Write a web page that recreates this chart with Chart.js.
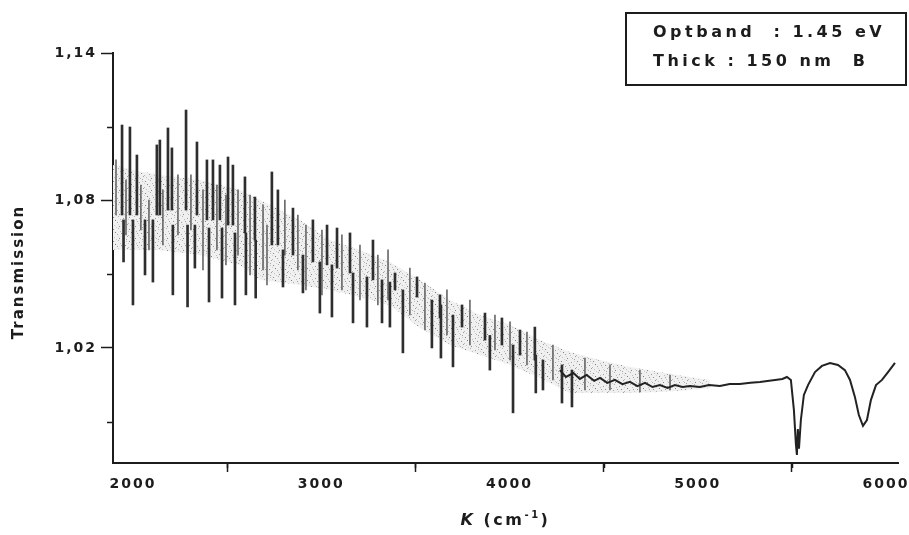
<!DOCTYPE html>
<html>
<head>
<meta charset="utf-8">
<script src="https://cdn.jsdelivr.net/npm/chart.js@4.4.0/dist/chart.umd.min.js"></script>
<style>
  html, body { margin: 0; padding: 0; background: #fff; }
  #wrap { width: 909px; height: 535px; position: relative; }
</style>
</head>
<body>
<div id="wrap"><canvas id="c"></canvas></div>
<script>
// Axis ticks: wavenumber (cm^-1) and transmission
const xTicks = [2000, 3000, 4000, 5000, 6000];
const xMinorTicks = [2500, 3500, 4500, 5500];
const yTicks = [1.02, 1.08, 1.14];
const yMinorTicks = [0.99, 1.05, 1.11];

// Envelope of the dense interference-noise band
const bandK  = [1894, 2000, 2143, 2356, 2568, 2675, 2887, 3046, 3206, 3365, 3525, 3684, 3843, 4003, 4162, 4321, 4481, 4640, 4799, 4959, 5065];
const bandHi = [1.0944, 1.0924, 1.0904, 1.0883, 1.0843, 1.0802, 1.0721, 1.0639, 1.0599, 1.0550, 1.0477, 1.0395, 1.0334, 1.0294, 1.0232, 1.0184, 1.0151, 1.0123, 1.0102, 1.0082, 1.0070];
const bandLo = [1.0599, 1.0599, 1.0599, 1.0578, 1.0538, 1.0477, 1.0456, 1.0436, 1.0407, 1.0375, 1.0281, 1.0212, 1.0171, 1.0131, 1.0078, 1.0017, 1.0017, 1.0017, 1.0021, 1.0029, 1.0037];

// Strong spikes of the noisy region: wavenumber, low and high transmission
const spikeK  = [1942, 1950, 1984, 2000, 2021, 2064, 2106, 2127, 2143, 2186, 2207, 2212, 2282, 2290, 2329, 2340, 2393, 2404, 2425, 2462, 2473, 2505, 2531, 2542, 2595, 2600, 2648, 2652, 2738, 2770, 2797, 2850, 2903, 2956, 2993, 3031, 3057, 3084, 3153, 3169, 3243, 3275, 3323, 3365, 3392, 3434, 3509, 3588, 3631, 3636, 3700, 3748, 3870, 3896, 3960, 4019, 4056, 4135, 4140, 4178, 4279, 4332];
const spikeLo = [1.0741, 1.0550, 1.0741, 1.0375, 1.0741, 1.0497, 1.0468, 1.0741, 1.0741, 1.0761, 1.0761, 1.0416, 1.0761, 1.0367, 1.0525, 1.0741, 1.0721, 1.0387, 1.0721, 1.0721, 1.0403, 1.0700, 1.0700, 1.0375, 1.0668, 1.0416, 1.0639, 1.0403, 1.0619, 1.0619, 1.0448, 1.0578, 1.0424, 1.0550, 1.0342, 1.0538, 1.0326, 1.0525, 1.0505, 1.0302, 1.0285, 1.0477, 1.0302, 1.0285, 1.0436, 1.0180, 1.0407, 1.0200, 1.0322, 1.0159, 1.0123, 1.0285, 1.0232, 1.0110, 1.0212, 0.9936, 1.0171, 1.0151, 1.0017, 1.0029, 0.9976, 0.9960];
const spikeHi = [1.1107, 1.0721, 1.1099, 1.0721, 1.0985, 1.0721, 1.0721, 1.1026, 1.1046, 1.1095, 1.1014, 1.0700, 1.1168, 1.0700, 1.0700, 1.1038, 1.0965, 1.0688, 1.0965, 1.0944, 1.0688, 1.0977, 1.0944, 1.0668, 1.0896, 1.0668, 1.0814, 1.0639, 1.0916, 1.0843, 1.0599, 1.0769, 1.0578, 1.0721, 1.0550, 1.0700, 1.0538, 1.0688, 1.0668, 1.0505, 1.0489, 1.0639, 1.0477, 1.0468, 1.0505, 1.0436, 1.0489, 1.0395, 1.0416, 1.0375, 1.0334, 1.0375, 1.0342, 1.0251, 1.0322, 1.0212, 1.0273, 1.0285, 1.0171, 1.0151, 1.0131, 1.0110];

// Fainter strokes inside the band
const fineK  = [1910, 1963, 2042, 2085, 2159, 2239, 2308, 2372, 2446, 2494, 2558, 2622, 2691, 2712, 2807, 2876, 2919, 3004, 3110, 3206, 3301, 3355, 3471, 3551, 3668, 3790, 3923, 4003, 4093, 4231, 4401, 4534, 4693, 4853];
const fineHi = [1.0965, 1.0883, 1.0863, 1.0802, 1.0843, 1.0904, 1.0904, 1.0843, 1.0863, 1.0822, 1.0843, 1.0822, 1.0782, 1.0700, 1.0802, 1.0741, 1.0700, 1.0680, 1.0660, 1.0619, 1.0578, 1.0599, 1.0525, 1.0464, 1.0436, 1.0395, 1.0334, 1.0306, 1.0265, 1.0212, 1.0159, 1.0131, 1.0110, 1.0090];
const fineLo = [1.0741, 1.0660, 1.0680, 1.0599, 1.0619, 1.0660, 1.0680, 1.0517, 1.0599, 1.0538, 1.0578, 1.0497, 1.0517, 1.0456, 1.0578, 1.0517, 1.0436, 1.0416, 1.0436, 1.0395, 1.0375, 1.0395, 1.0334, 1.0273, 1.0253, 1.0212, 1.0192, 1.0151, 1.0131, 1.0070, 1.0029, 1.0029, 1.0021, 1.0029];

// Continuous trace past the noisy region, with the two absorption dips
const traceK = [4268, 4300, 4340, 4374, 4410, 4450, 4481, 4520, 4560, 4600, 4640, 4680, 4720, 4760, 4799, 4840, 4879, 4920, 4959, 5012, 5060, 5118, 5170, 5224, 5280, 5331, 5370, 5411, 5450, 5474, 5495, 5511, 5522, 5527, 5532, 5538, 5548, 5564, 5586, 5623, 5660, 5703, 5745, 5782, 5809, 5835, 5856, 5878, 5899, 5920, 5947, 5979, 6011, 6048];
const traceT = [1.0110, 1.0082, 1.0098, 1.0074, 1.0090, 1.0066, 1.0078, 1.0058, 1.0070, 1.0053, 1.0062, 1.0045, 1.0058, 1.0041, 1.0049, 1.0037, 1.0049, 1.0041, 1.0045, 1.0041, 1.0049, 1.0045, 1.0053, 1.0053, 1.0058, 1.0062, 1.0066, 1.0070, 1.0074, 1.0082, 1.0070, 0.9948, 0.9805, 0.9765, 0.9870, 0.9790, 0.9907, 1.0009, 1.0049, 1.0102, 1.0127, 1.0139, 1.0131, 1.0110, 1.0070, 1.0001, 0.9927, 0.9883, 0.9907, 0.9988, 1.0049, 1.0070, 1.0102, 1.0139];

const noteLines = ['Optband  : 1.45 eV', 'Thick : 150 nm  B'];
const xTitle = ['K', ' (cm', '-1', ')'];
const yTitle = 'Transmission';

const INK = '#1c1c1c';
const FONT = "'DejaVu Sans'";

// Speckled fill for the noise band
function speckle() {
  const t = document.createElement('canvas');
  t.width = 16; t.height = 12;
  const g = t.getContext('2d');
  g.fillStyle = '#f0f0f0';
  g.fillRect(0, 0, 16, 12);
  const dots = [
    [1,1,'#8a8a8a'],[6,0,'#b0b0b0'],[11,2,'#9a9a9a'],[14,1,'#c4c4c4'],
    [3,4,'#7e7e7e'],[8,3,'#bcbcbc'],[13,5,'#8e8e8e'],[0,7,'#b8b8b8'],
    [5,6,'#a4a4a4'],[10,7,'#c8c8c8'],[15,8,'#9c9c9c'],[2,9,'#c0c0c0'],
    [7,10,'#888888'],[12,10,'#b4b4b4'],[4,11,'#cccccc'],[9,5,'#a0a0a0'],
    [6,8,'#d2d2d2'],[14,11,'#a8a8a8'],[0,3,'#d0d0d0'],[11,9,'#d4d4d4']
  ];
  dots.forEach(([x, y, c]) => { g.fillStyle = c; g.fillRect(x, y, 1, 1); });
  return g.createPattern(t, 'repeat');
}

const decor = {
  id: 'decor',
  beforeUpdate(chart) { chart.ctx.letterSpacing = '2px'; },
  beforeDraw(chart) { chart.ctx.letterSpacing = '2px'; },
  afterDraw(chart) {
    const { ctx, chartArea: a, scales: { x, y } } = chart;
    ctx.save();
    // minor tick marks
    ctx.strokeStyle = INK;
    ctx.lineWidth = 1.5;
    ctx.beginPath();
    xMinorTicks.forEach(v => {
      const px = Math.round(x.getPixelForValue(v)) + 0.5;
      ctx.moveTo(px, a.bottom); ctx.lineTo(px, a.bottom + 5);
    });
    yMinorTicks.forEach(v => {
      const py = Math.round(y.getPixelForValue(v)) + 0.5;
      ctx.moveTo(a.left, py); ctx.lineTo(a.left - 6, py);
    });
    ctx.stroke();

    ctx.fillStyle = INK;
    ctx.textBaseline = 'middle';
    ctx.textAlign = 'left';

    // x axis title with italic K and superscript
    const parts = [
      { t: xTitle[0], f: `italic bold 16px ${FONT}`, dy: 0 },
      { t: xTitle[1], f: `bold 16px ${FONT}`, dy: 0 },
      { t: xTitle[2], f: `bold 10px ${FONT}`, dy: -6 },
      { t: xTitle[3], f: `bold 16px ${FONT}`, dy: 0 }
    ];
    ctx.letterSpacing = '2.5px';
    let total = 0;
    parts.forEach(p => { ctx.font = p.f; p.w = ctx.measureText(p.t).width; total += p.w; });
    let cx = (a.left + a.right) / 2 - total / 2;
    parts.forEach(p => { ctx.font = p.f; ctx.fillText(p.t, cx, 521 + p.dy); cx += p.w; });

    // y axis title
    ctx.save();
    ctx.translate(19, 272);
    ctx.rotate(-Math.PI / 2);
    ctx.textAlign = 'center';
    ctx.font = `bold 15px ${FONT}`;
    ctx.letterSpacing = '2px';
    ctx.fillText(yTitle, 0, 0);
    ctx.restore();

    // annotation box
    ctx.lineWidth = 2;
    ctx.strokeStyle = INK;
    ctx.strokeRect(626, 13, 280, 72);
    ctx.font = `bold 16px ${FONT}`;
    ctx.letterSpacing = '3.5px';
    ctx.fillText(noteLines[0], 653, 33);
    ctx.fillText(noteLines[1], 653, 62);
    ctx.restore();
  }
};

const ctx = document.getElementById('c').getContext('2d');
new Chart(ctx, {
  type: 'line',
  data: {
    datasets: [
      {
        label: 'band-hi',
        data: bandK.map((k, i) => ({ x: k, y: bandHi[i] })),
        borderColor: 'transparent', borderWidth: 0, pointRadius: 0,
        backgroundColor: speckle(), fill: '+1', order: 5
      },
      {
        label: 'band-lo',
        data: bandK.map((k, i) => ({ x: k, y: bandLo[i] })),
        borderColor: 'transparent', borderWidth: 0, pointRadius: 0,
        fill: false, order: 6
      },
      {
        type: 'bar',
        label: 'fine',
        data: fineK.map((k, i) => ({ x: k, y: [fineLo[i], fineHi[i]] })),
        backgroundColor: '#6a6a6a', borderWidth: 0,
        barThickness: 1, grouped: false, order: 3
      },
      {
        type: 'bar',
        label: 'spikes',
        data: spikeK.map((k, i) => ({ x: k, y: [spikeLo[i], spikeHi[i]] })),
        backgroundColor: '#2e2e2e', borderWidth: 0,
        barThickness: 2, grouped: false, order: 2
      },
      {
        label: 'trace',
        data: traceK.map((k, i) => ({ x: k, y: traceT[i] })),
        borderColor: '#222', borderWidth: 2, pointRadius: 0,
        tension: 0, fill: false, order: 1
      }
    ]
  },
  options: {
    responsive: true,
    maintainAspectRatio: false,
    animation: false,
    events: [],
    layout: { padding: { left: 0, top: 53, right: 11, bottom: 0 } },
    plugins: { legend: { display: false }, tooltip: { enabled: false } },
    scales: {
      x: {
        type: 'linear', min: 1894, max: 6064, offset: false,
        afterBuildTicks: s => { s.ticks = xTicks.map(v => ({ value: v })); },
        afterFit: s => { s.height = 72; s.paddingLeft = 0; s.paddingRight = 0; },
        ticks: {
          autoSkip: false, maxRotation: 0, padding: 4, color: INK,
          font: { family: 'DejaVu Sans', size: 14, weight: 'bold' },
          callback: v => String(v)
        },
        grid: { display: true, drawOnChartArea: false, tickLength: 9, tickWidth: 1.5, tickColor: INK },
        border: { display: true, color: INK, width: 2 }
      },
      y: {
        type: 'linear', min: 0.9732, max: 1.14,
        afterBuildTicks: s => { s.ticks = yTicks.map(v => ({ value: v })); },
        afterFit: s => { s.width = 113; },
        ticks: {
          autoSkip: false, padding: 4, color: INK,
          font: { family: 'DejaVu Sans', size: 14, weight: 'bold' },
          callback: v => v.toFixed(2).replace('.', ',')
        },
        grid: { display: true, drawOnChartArea: false, tickLength: 12, tickWidth: 1.5, tickColor: INK },
        border: { display: true, color: INK, width: 2 }
      }
    }
  },
  plugins: [decor]
});
</script>
</body>
</html>
